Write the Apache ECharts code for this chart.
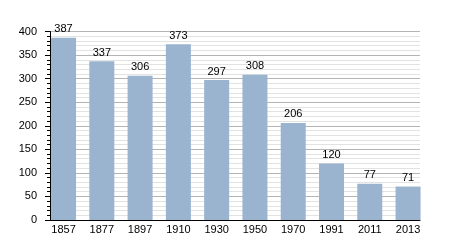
<!DOCTYPE html>
<html><head><meta charset="utf-8">
<script src="https://cdn.jsdelivr.net/npm/echarts@6/dist/echarts.min.js"></script>
<style>html,body{margin:0;padding:0;background:#fff}#c{width:450px;height:250px}</style>
</head><body><div id="c"></div>
<script>
var years = ['1857','1877','1897','1910','1930','1950','1970','1991','2011','2013'];
var population = [387, 337, 306, 373, 297, 308, 206, 120, 77, 71];
var yTicks = [0, 50, 100, 150, 200, 250, 300, 350, 400];

var chart = echarts.init(document.getElementById('c'), null, {renderer:'canvas'});
var font = 'Liberation Sans, Arial, sans-serif';
chart.setOption({
  animation: false,
  backgroundColor: '#fff',
  grid: [
    {left: 50, top: 31.5, width: 370, height: 188.5},
    {left: 44.4, top: 31.5, width: 382.8, height: 188.5}
  ],
  xAxis: [
    {gridIndex: 0, type: 'value', min: 0, max: 1,
     axisLine: {show: true, lineStyle: {color: '#000', width: 1}},
     axisTick: {show: false}, axisLabel: {show: false}, splitLine: {show: false}},
    {gridIndex: 1, type: 'category', data: years,
     axisLine: {show: false}, axisTick: {show: false},
     axisLabel: {color: '#000', fontSize: 11, fontFamily: font, margin: 4}}
  ],
  yAxis: [
    {gridIndex: 0, type: 'value', min: yTicks[0], max: yTicks[yTicks.length-1], interval: 50,
     axisLine: {show: true, lineStyle: {color: '#000', width: 1}},
     axisTick: {show: true, length: 5, lineStyle: {color: '#000'}},
     minorTick: {show: true, splitNumber: 5, length: 3, lineStyle: {color: '#000'}},
     axisLabel: {color: '#000', fontSize: 11, fontFamily: font, margin: 13},
     splitLine: {show: true, lineStyle: {color: '#b4b4b4', width: 1}},
     minorSplitLine: {show: true, lineStyle: {color: '#e2e2e2', width: 1}}},
    {gridIndex: 1, type: 'value', min: 0, max: 400, show: false}
  ],
  series: [{
    type: 'bar', xAxisIndex: 1, yAxisIndex: 1,
    data: population, barWidth: 25,
    itemStyle: {color: '#9ab3cf'},
    label: {show: true, position: 'top', distance: 3, color: '#000', fontSize: 11, fontFamily: font}
  }]
});
</script></body></html>
